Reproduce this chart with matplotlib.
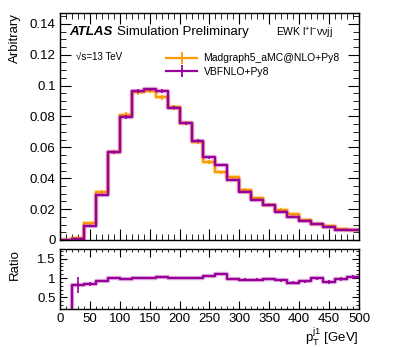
import numpy as np
import matplotlib
matplotlib.use('Agg')
import matplotlib.pyplot as plt
from matplotlib.ticker import MultipleLocator, FuncFormatter
from matplotlib.lines import Line2D

plt.rcParams['font.family'] = ['Liberation Sans', 'DejaVu Sans']
plt.rcParams['mathtext.fontset'] = 'custom'
plt.rcParams['mathtext.rm'] = 'Liberation Sans'
plt.rcParams['mathtext.it'] = 'Liberation Sans:italic'

# bin edges in GeV
edges = np.arange(0, 520, 20)

# Madgraph5_aMC@NLO+Py8
mg = [0.0002, 0.0010, 0.0108, 0.0309, 0.0572, 0.0812, 0.0957, 0.0968, 0.0924, 0.0860,
      0.0758, 0.0637, 0.0507, 0.0438, 0.0406, 0.0324, 0.0270, 0.0228, 0.0196, 0.0166,
      0.0132, 0.0104, 0.0090, 0.0069, 0.0066]
mg_err = [0.0002, 0.0004, 0.0008, 0.0012, 0.0014, 0.0016, 0.0017, 0.0017, 0.0016, 0.0015,
          0.0014, 0.0013, 0.0012, 0.0011, 0.0011, 0.0010, 0.0009, 0.0009, 0.0008, 0.0008,
          0.0007, 0.0006, 0.0006, 0.0005, 0.0005]

# VBFNLO+Py8
vbf = [0.0001, 0.0008, 0.0091, 0.0292, 0.0568, 0.0797, 0.0963, 0.0975, 0.0967, 0.0857,
       0.0756, 0.0643, 0.0535, 0.0486, 0.0391, 0.0308, 0.0261, 0.0227, 0.0183, 0.0151,
       0.0123, 0.0101, 0.0084, 0.0065, 0.0065]
vbf_err = [0.0001, 0.0003, 0.0006, 0.0008, 0.0010, 0.0011, 0.0012, 0.0012, 0.0012, 0.0011,
           0.0010, 0.0009, 0.0009, 0.0008, 0.0007, 0.0006, 0.0006, 0.0005, 0.0005, 0.0005,
           0.0004, 0.0004, 0.0004, 0.0003, 0.0003]

# ratio VBFNLO / Madgraph
ratio = [0.0, 0.82, 0.84, 0.92, 1.01, 0.97, 1.00, 1.00, 1.03, 0.99,
         0.99, 1.00, 1.05, 1.10, 0.97, 0.96, 0.96, 0.98, 0.94, 0.88,
         0.92, 0.99, 0.89, 0.98, 1.02]
ratio_err = [0.0, 0.21, 0.05, 0.03, 0.02, 0.02, 0.02, 0.02, 0.02, 0.02,
             0.02, 0.02, 0.03, 0.03, 0.03, 0.03, 0.03, 0.03, 0.04, 0.04,
             0.04, 0.04, 0.05, 0.05, 0.05]

c_mg = '#ff9900'
c_vbf = '#990099'

centers = 0.5 * (edges[:-1] + edges[1:])

fig = plt.figure(figsize=(3.99, 3.47), dpi=100)
ax = fig.add_axes([0.150, 0.3084, 0.750, 0.654])
axr = fig.add_axes([0.150, 0.1095, 0.750, 0.173])

def step(a, vals, col, lw=1.6):
    v = np.append(vals, vals[-1])
    a.step(edges, v, where='post', color=col, lw=lw + 1.6, alpha=0.3)
    a.step(edges, v, where='post', color=col, lw=lw)

step(ax, mg, c_mg)
ax.errorbar(centers, mg, yerr=mg_err, fmt='none', ecolor=c_mg, elinewidth=1.2)
step(ax, vbf, c_vbf)
ax.errorbar(centers, vbf, yerr=vbf_err, fmt='none', ecolor=c_vbf, elinewidth=1.2)

ax.set_xlim(0, 500)
ax.set_ylim(0, 0.147)
ax.xaxis.set_major_locator(MultipleLocator(50))
ax.xaxis.set_minor_locator(MultipleLocator(10))
ax.yaxis.set_major_locator(MultipleLocator(0.02))
ax.yaxis.set_minor_locator(MultipleLocator(0.005))
ax.yaxis.set_major_formatter(FuncFormatter(lambda v, p: f'{v:g}'))
ax.tick_params(labelbottom=False)
ax.set_ylabel('Arbitrary', fontsize=9.5, loc='top')
ax.yaxis.set_label_coords(-0.13, 1.0)

ax.text(0.033, 0.915, 'ATLAS', transform=ax.transAxes, fontsize=9.5,
        fontweight='bold', fontstyle='italic', va='center')
ax.text(0.19, 0.915, 'Simulation Preliminary', transform=ax.transAxes, fontsize=9.5, va='center')
ax.text(0.055, 0.806, '√s=13 TeV', transform=ax.transAxes, fontsize=7, va='center')
ax.text(0.722, 0.912, r'EWK $\mathregular{l^{+}l^{-}\nu\nu jj}$', transform=ax.transAxes,
        fontsize=7.5, va='center')

h_mg = Line2D([], [], color=c_mg, lw=1.6, marker='|', markersize=9, markeredgewidth=1.3)
h_vbf = Line2D([], [], color=c_vbf, lw=1.6, marker='|', markersize=9, markeredgewidth=1.3)
ax.legend([h_mg, h_vbf], ['Madgraph5_aMC@NLO+Py8', 'VBFNLO+Py8'], loc='upper left',
          bbox_to_anchor=(0.355, 0.822), frameon=False, fontsize=7.5, handlelength=3.0,
          handletextpad=0.6, labelspacing=0.3, borderaxespad=0, borderpad=0)

rv = np.append(ratio, ratio[-1])
axr.step(edges, rv, where='post', color=c_vbf, lw=3.2, alpha=0.3)
axr.step(edges, rv, where='post', color=c_vbf, lw=1.6)
axr.errorbar(centers[1:], ratio[1:], yerr=ratio_err[1:], fmt='none', ecolor=c_vbf, elinewidth=1.2)
axr.set_xlim(0, 500)
axr.set_ylim(0.2, 1.75)
axr.xaxis.set_major_locator(MultipleLocator(50))
axr.xaxis.set_minor_locator(MultipleLocator(10))
axr.yaxis.set_major_locator(MultipleLocator(0.5))
axr.yaxis.set_minor_locator(MultipleLocator(0.1))
axr.yaxis.set_major_formatter(FuncFormatter(lambda v, p: f'{v:g}'))
axr.set_ylabel('Ratio', fontsize=9.5, loc='top')
axr.yaxis.set_label_coords(-0.13, 1.0)
axr.set_xlabel(r'$\mathregular{p_{T}^{j1}}$ [GeV]', fontsize=9.5, loc='right')
axr.xaxis.set_label_coords(1.0, -0.29)

for a in (ax, axr):
    a.tick_params(which='both', direction='in', top=True, right=True, labelsize=9.5, pad=3)
    a.tick_params(which='major', length=8)
    a.tick_params(which='minor', length=4)
    for s in a.spines.values():
        s.set_linewidth(1.0)
axr.tick_params(which='major', length=5)
axr.tick_params(which='minor', length=2.5)
axr.tick_params(axis='x', which='major', length=6)

fig.savefig('out.png', dpi=100)
